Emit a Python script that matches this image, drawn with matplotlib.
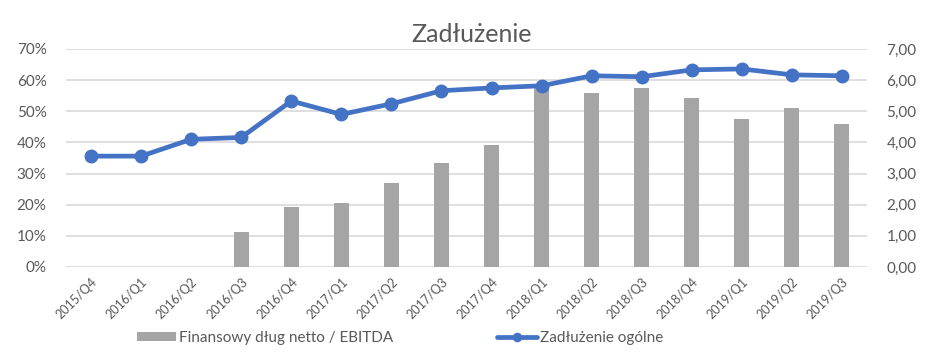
import matplotlib
matplotlib.use("Agg")
import matplotlib.pyplot as plt
from matplotlib.ticker import FuncFormatter, MultipleLocator
import numpy as np

plt.rcParams['font.family'] = ['Lato', 'DejaVu Sans']

quarters = ["2015/Q4", "2016/Q1", "2016/Q2", "2016/Q3", "2016/Q4", "2017/Q1", "2017/Q2",
            "2017/Q3", "2017/Q4", "2018/Q1", "2018/Q2", "2018/Q3", "2018/Q4", "2019/Q1",
            "2019/Q2", "2019/Q3"]
# Finansowy dług netto / EBITDA (right axis)
debt_ebitda = [np.nan, np.nan, np.nan, 1.12, 1.92, 2.05, 2.69, 3.33, 3.91, 5.79, 5.60,
               5.75, 5.42, 4.75, 5.10, 4.59]
# Zadłużenie ogólne (left axis, %)
debt_total = [35.6, 35.6, 41.0, 41.6, 53.3, 49.0, 52.4, 56.6, 57.5, 58.2, 61.4, 61.1,
              63.3, 63.6, 61.7, 61.4]

title = "Zadłużenie"
bar_label = "Finansowy dług netto / EBITDA"
line_label = "Zadłużenie ogólne"

txt = "#595959"
fig = plt.figure(figsize=(9.44, 3.55), dpi=100)
ax = fig.add_axes([66/944, 1-267/355, 801/944, 218/355])
ax2 = ax.twinx()

x = np.arange(len(quarters))
bars = ax2.bar(x, debt_ebitda, width=0.3, color="#A5A5A5", zorder=2, label=bar_label)
line, = ax.plot(x, debt_total, color="#4472C4", lw=3.4, marker="o", ms=9,
                zorder=3, label=line_label, solid_capstyle="round")

ax.set_zorder(ax2.get_zorder() + 1)
ax.patch.set_visible(False)

ax.set_xlim(-0.5, len(quarters) - 0.5)
ax.set_ylim(0, 70)
ax2.set_ylim(0, 7)
ax.yaxis.set_major_locator(MultipleLocator(10))
ax2.yaxis.set_major_locator(MultipleLocator(1))
ax.yaxis.set_major_formatter(FuncFormatter(lambda v, p: f"{v:.0f}%"))
ax2.yaxis.set_major_formatter(FuncFormatter(lambda v, p: f"{v:.2f}".replace(".", ",")))
ax2.grid(axis="y", color="#D9D9D9", lw=1.2, zorder=0)
ax2.set_axisbelow(True)

for a in (ax, ax2):
    for s in a.spines.values():
        s.set_visible(False)
    a.tick_params(length=0, colors=txt, labelsize=11)

ax.tick_params(axis="y", pad=14)
ax2.tick_params(axis="y", pad=14)
ax.set_xticks(x)
ax.set_xticklabels(quarters, rotation=45, ha="right", rotation_mode="anchor", fontsize=9)
ax.tick_params(axis="x", pad=6)

fig.text(472/944, 1-35/355, title, ha="center", va="center", fontsize=18, color=txt)

fig.legend([bars, line], [bar_label, line_label], loc="center", ncol=2,
           bbox_to_anchor=(400/944, 1-338/355), frameon=False, fontsize=11,
           labelcolor=txt, handlelength=2.6, handleheight=0.46, handletextpad=0.2,
           columnspacing=6.8, numpoints=1, borderpad=0, markerscale=0.65)

fig.savefig("out.png", dpi=100)
